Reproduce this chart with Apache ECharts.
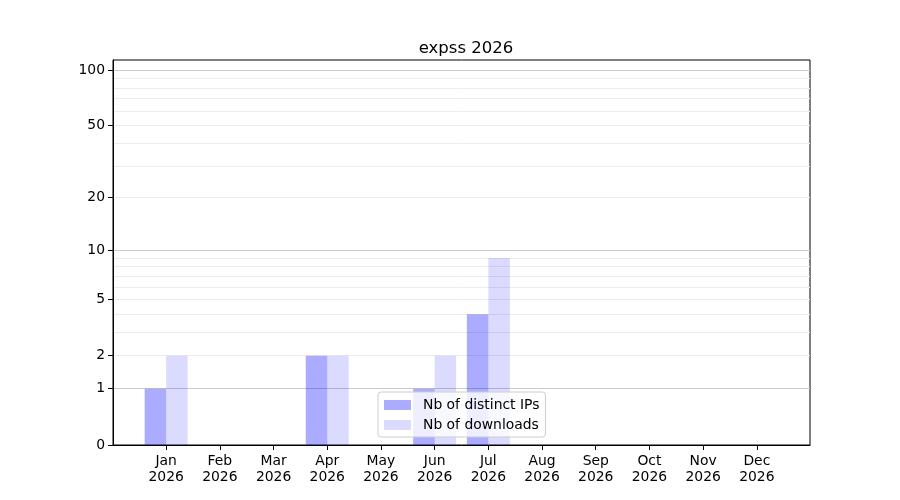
<!DOCTYPE html>
<html>
<head>
<meta charset="utf-8">
<script src="https://cdn.jsdelivr.net/npm/echarts@6/dist/echarts.min.js"></script>
<style>
  html, body { margin: 0; padding: 0; background: #fff; }
  #chart { width: 900px; height: 500px; }
</style>
</head>
<body>
<div id="chart"></div>
<script>
var months = ["Jan", "Feb", "Mar", "Apr", "May", "Jun", "Jul", "Aug", "Sep", "Oct", "Nov", "Dec"];
var year = "2026";
var distinctIps = [1, 0, 0, 2, 0, 1, 4, 0, 0, 0, 0, 0];
var downloads = [2, 0, 0, 2, 0, 2, 9, 0, 0, 0, 0, 0];
var yTicks = [0, 1, 2, 5, 10, 20, 50, 100];
var yMajorGrid = [1, 10, 100];
var yMinorGrid = [2, 3, 4, 5, 6, 7, 8, 9, 20, 30, 40, 50, 60, 70, 80, 90];

// y scale is log10(1 + v)
function tr(v) { return Math.log10(1 + v); }

var font = "DejaVu Sans";
var yMax = 2.058;

var myChart = echarts.init(document.getElementById('chart'));

var xTickPos = months.map(function (m, i) { return i + 0.2; });

var yAxisBase = { type: 'value', min: 0, max: yMax, position: 'left' };

var option = {
    animation: false,
    textStyle: { fontFamily: font },
    title: {
        text: 'expss ' + year,
        left: 461,
        top: 35,
        textAlign: 'center',
        textStyle: { fontFamily: font, fontSize: 16.5, fontWeight: 'normal', color: '#000' }
    },
    grid: {
        left: 113, right: 90, top: 60, bottom: 55,
        show: true, borderColor: '#000', borderWidth: 1, backgroundColor: 'transparent'
    },
    legend: {
        orient: 'vertical',
        left: 378,
        top: 392,
        padding: [6, 6, 5, 6],
        itemGap: 6,
        itemWidth: 27,
        itemHeight: 10,
        icon: 'rect',
        backgroundColor: 'rgba(255,255,255,0.8)',
        borderColor: '#cccccc',
        borderWidth: 1,
        borderRadius: 3,
        textStyle: { fontFamily: font, fontSize: 13.9, color: '#000', padding: [0, 0, 0, 7] },
        data: ['Nb of distinct IPs', 'Nb of downloads']
    },
    xAxis: {
        type: 'value',
        min: -0.79,
        max: 12.19,
        axisLine: { onZero: false, lineStyle: { color: '#000' } },
        axisTick: { length: 5, lineStyle: { color: '#000' }, customValues: xTickPos },
        axisLabel: {
            customValues: xTickPos,
            fontFamily: font, fontSize: 13.9, color: '#000', lineHeight: 16.5, margin: 8,
            formatter: function (v) { return months[Math.round(v - 0.2)] + '\n' + year; }
        },
        splitLine: { show: false }
    },
    yAxis: [
        Object.assign({}, yAxisBase, {
            axisLine: { show: true, onZero: false, lineStyle: { color: '#000' } },
            axisTick: { show: true, length: 5, lineStyle: { color: '#000' }, customValues: yTicks.map(tr) },
            axisLabel: {
                customValues: yTicks.map(tr),
                fontFamily: font, fontSize: 13.9, color: '#000', margin: 8,
                formatter: function (v) { return String(Math.round(Math.pow(10, v) - 1)); }
            },
            splitLine: { show: false }
        }),
        Object.assign({}, yAxisBase, {
            axisLine: { show: false, onZero: false },
            axisTick: { show: false, customValues: yMajorGrid.map(tr) },
            axisLabel: { show: false },
            splitLine: { show: true, lineStyle: { color: '#cbcbcb', width: 1 } }
        }),
        Object.assign({}, yAxisBase, {
            axisLine: { show: false, onZero: false },
            axisTick: { show: false, customValues: yMinorGrid.map(tr) },
            axisLabel: { show: false },
            splitLine: { show: true, lineStyle: { color: '#ececec', width: 1 } }
        })
    ],
    series: [
        {
            name: 'Nb of distinct IPs',
            type: 'bar',
            barWidth: 21.5,
            barGap: '-100%',
            yAxisIndex: 0,
            itemStyle: { color: 'rgba(0,0,255,0.33)' },
            data: distinctIps.map(function (v, i) { return [i, tr(v)]; })
        },
        {
            name: 'Nb of downloads',
            type: 'bar',
            barWidth: 21.5,
            barGap: '-100%',
            yAxisIndex: 0,
            itemStyle: { color: 'rgba(0,0,255,0.14)' },
            data: downloads.map(function (v, i) { return [i + 0.4, tr(v)]; })
        }
    ]
};

myChart.setOption(option);
</script>
</body>
</html>
